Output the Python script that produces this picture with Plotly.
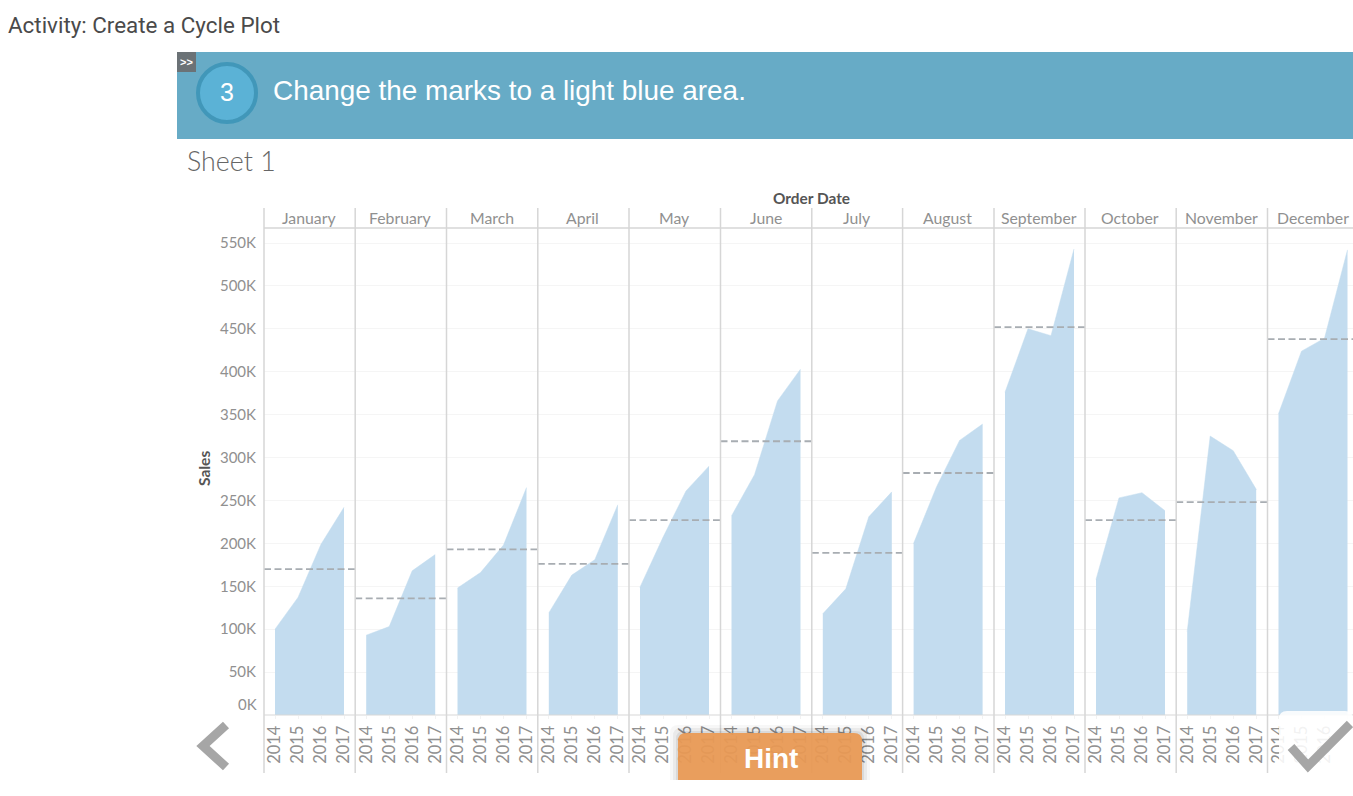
import plotly.graph_objects as go

W, H = 1353, 796
years = [2014, 2015, 2016, 2017]
months = ["January", "February", "March", "April", "May", "June", "July",
          "August", "September", "October", "November", "December"]
jan = [100, 137, 199, 242]
feb = [93, 103, 168, 187]
mar = [148, 166, 198, 265]
apr = [119, 163, 181, 245]
may = [149, 207, 261, 290]
jun = [232, 280, 366, 403]
jul = [118, 147, 231, 260]
aug = [200, 266, 320, 339]
sep = [376, 450, 442, 543]
oct_ = [158, 253, 259, 238]
nov = [97, 325, 308, 263]
dec = [351, 424, 439, 542]
averages = [170, 136, 193, 176, 227, 319, 189, 282, 452, 227, 248, 438]
y_ticks = [0, 50, 100, 150, 200, 250, 300, 350, 400, 450, 500, 550]
y_tick_labels = ["", "50K", "100K", "150K", "200K", "250K", "300K", "350K", "400K", "450K", "500K", "550K"]
series = [jan, feb, mar, apr, may, jun, jul, aug, sep, oct_, nov, dec]

FONT = "Lato"
GREY = "#909090"
SEP = "#d6d6d6"
edges = [264, 355.2, 446.5, 537.8, 629, 720.5, 811.8, 902.6, 994, 1085, 1176.2, 1267.5, 1353]
TOP, BOT = 228, 715
PX_PER_K = 472 / 550
STEP = 23.0
LEAD = 11.0


def px(x):
    return x / W


def py(y):
    return 1 - y / H


fig = go.Figure()
layout = {}
for i, (name, vals) in enumerate(zip(months, series)):
    suffix = "" if i == 0 else str(i + 1)
    x0, x1 = edges[i], edges[i + 1]
    lo = years[0] - LEAD / STEP
    hi = lo + (x1 - x0) / STEP
    fig.add_trace(go.Scatter(
        x=years, y=vals, mode="lines", fill="tozeroy",
        fillcolor="rgb(195,220,239)", line=dict(color="rgb(195,220,239)", width=0.5),
        xaxis="x" + suffix, yaxis="y" + suffix, showlegend=False, name=name))
    fig.add_trace(go.Scatter(
        x=[lo, hi], y=[averages[i], averages[i]], mode="lines",
        line=dict(color="#a8adb2", width=1.8, dash="7px,3.5px"),
        xaxis="x" + suffix, yaxis="y" + suffix, showlegend=False, name=name + " average"))
    layout["xaxis" + suffix] = dict(
        domain=[px(x0), px(x1)], range=[lo, hi], anchor="y" + suffix,
        tickmode="array", tickvals=years, ticktext=[str(v) for v in years],
        tickangle=-90, showgrid=False, zeroline=False, ticks="outside", ticklen=3,
        tickcolor="#f2f2f2", tickfont=dict(family=FONT, size=16.5, color=GREY),
        showline=False)
    layout["yaxis" + suffix] = dict(
        domain=[py(BOT), py(TOP)], range=[0, (BOT - TOP) / PX_PER_K],
        anchor="x" + suffix, tickmode="array", tickvals=y_ticks,
        ticktext=y_tick_labels, showticklabels=(i == 0),
        showgrid=True, gridcolor="#f5f5f5", gridwidth=1, zeroline=False,
        ticks="outside" if i == 0 else "", ticklen=4, tickcolor="#ffffff",
        tickfont=dict(family=FONT, size=15, color=GREY), showline=False)

shapes = []


def rect(x0, y0, x1, y1, color, layer="above"):
    shapes.append(dict(type="rect", xref="paper", yref="paper", x0=px(x0), x1=px(x1),
                       y0=py(y0), y1=py(y1), fillcolor=color, line_width=0, layer=layer))


def round_top(x0, y0, x1, y1, r, color):
    shapes.append(dict(type="path", xref="paper", yref="paper",
                       path=(f"M{px(x0)},{py(y1)} L{px(x0)},{py(y0 + r)} "
                             f"Q{px(x0)},{py(y0)} {px(x0 + r)},{py(y0)} "
                             f"L{px(x1 - r)},{py(y0)} Q{px(x1)},{py(y0)} {px(x1)},{py(y0 + r)} "
                             f"L{px(x1)},{py(y1)} Z"),
                       fillcolor=color, line_width=0, layer="above"))


def hline(x0, x1, y, color=SEP, width=1.5):
    shapes.append(dict(type="line", xref="paper", yref="paper", x0=px(x0), x1=px(x1),
                       y0=py(y), y1=py(y), line=dict(color=color, width=width), layer="above"))


def vline(x, y0, y1, color=SEP, width=1.5):
    shapes.append(dict(type="line", xref="paper", yref="paper", x0=px(x), x1=px(x),
                       y0=py(y0), y1=py(y1), line=dict(color=color, width=width), layer="above"))


def poly(points, color, width):
    d = "M" + " L".join(f"{px(a):.5f},{py(b):.5f}" for a, b in points)
    shapes.append(dict(type="path", xref="paper", yref="paper", path=d,
                       fillcolor="rgba(0,0,0,0)",
                       line=dict(color=color, width=width), layer="above"))


for e in edges[:-1]:
    vline(e, 208, 773)
hline(264, 1353, 228)
hline(264, 1353, 715, color="#d8d8d8", width=1.2)

# banner
rect(177, 52, 1353, 139, "#67abc6")
rect(177, 52, 196, 72, "#6b7276")
shapes.append(dict(type="circle", xref="paper", yref="paper", x0=px(198), x1=px(256),
                   y0=py(122), y1=py(64), fillcolor="#5bb2d6",
                   line=dict(color="#4197b9", width=4), layer="above"))

# overlay buttons
for grow, alpha in ((8, .03), (5, .05), (2, .07)):
    round_top(678 - grow, 733 - grow, 862 + grow, 780, 8, f"rgba(0,0,0,{alpha})")
round_top(177, 712, 249, 780, 8, "rgba(255,255,255,0.85)")
round_top(1279, 711, 1353, 780, 8, "rgba(255,255,255,0.88)")
round_top(678, 733, 862, 780, 8, "rgba(234,154,85,0.94)")
rect(0, 780, W, H, "#ffffff")
poly([(226, 725), (203, 746), (226, 767)], "#a6a6a6", 9)
poly([(1291, 747), (1308, 766), (1350, 724)], "#a6a6a6", 9)

annotations = []


def text(x, y, s, size, color, family=FONT, anchor="center", angle=0, bold=False):
    annotations.append(dict(
        x=px(x), y=py(y), xref="paper", yref="paper", showarrow=False,
        text=f"<b>{s}</b>" if bold else s, xanchor=anchor, yanchor="middle",
        textangle=angle, font=dict(family=family, size=size, color=color)))


for i, name in enumerate(months):
    end = edges[i] + 91.3
    text((edges[i] + end) / 2 - 0.5, 217.5, name, 15.8, GREY)
text(811, 198, "Order Date", 15.4, "#555555", bold=True)
text(204, 469, "Sales", 15.5, "#555555", angle=-90, bold=True)
text(259, 704, "0K", 15, GREY, anchor="right")
text(6, 25, "Activity: Create a Cycle Plot", 22.4, "#4a4a4a", family="Roboto", anchor="left")
text(271, 91, "Change the marks to a light blue area.", 27.9, "#ffffff",
     family="Liberation Sans", anchor="left")
text(227, 92, "3", 25, "#ffffff", family="Liberation Sans")
text(186.5, 62, "&gt;&gt;", 11, "#ffffff", family="Liberation Sans", bold=True)
text(185, 161.5, "Sheet 1", 26.8, "#666666", family="Lato Light, Lato", anchor="left")
text(771, 758, "<b>Hint</b>", 28, "#ffffff", family="Liberation Sans")

fig.update_layout(
    width=W, height=H, margin=dict(l=0, r=0, t=0, b=0, autoexpand=False),
    paper_bgcolor="#ffffff", plot_bgcolor="#ffffff", showlegend=False,
    shapes=shapes, annotations=annotations, **layout)
fig.write_html("out.html", config={"displayModeBar": False},
               post_script="document.body.style.margin='0';document.body.style.overflow='hidden';")
